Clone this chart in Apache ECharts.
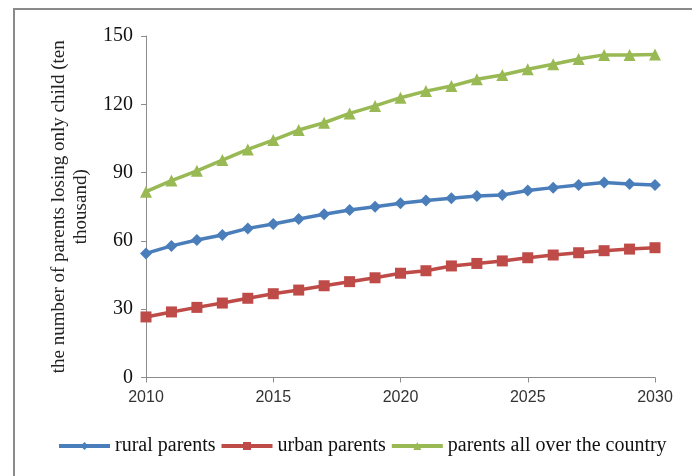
<!DOCTYPE html>
<html lang="en">
<head>
    <meta charset="UTF-8">
    <title>parents losing only child</title>
    <script src="https://cdn.jsdelivr.net/npm/echarts@6/dist/echarts.min.js"></script>
</head>
<body style="margin:0;background:#fff;">
<div id="main" style="width: 692px;height:476px;"></div>
<script>
    // years 2010..2030
    var years = [2010, 2011, 2012, 2013, 2014, 2015, 2016, 2017, 2018, 2019, 2020,
        2021, 2022, 2023, 2024, 2025, 2026, 2027, 2028, 2029, 2030];
    var rural = [54.5, 57.8, 60.4, 62.6, 65.5, 67.4, 69.6, 71.7, 73.6, 75.0, 76.5,
        77.7, 78.7, 79.7, 80.2, 82.1, 83.4, 84.6, 85.6, 85.0, 84.6];
    var urban = [26.6, 28.8, 30.8, 32.7, 34.8, 36.8, 38.4, 40.3, 42.1, 43.8, 45.8,
        46.9, 49.0, 50.1, 51.2, 52.6, 53.8, 54.8, 55.7, 56.4, 57.0];
    var country = [81.6, 86.5, 90.8, 95.5, 100.2, 104.3, 108.7, 111.9, 116.0, 119.3, 122.9,
        125.8, 128.0, 131.0, 132.9, 135.4, 137.6, 139.9, 141.7, 141.7, 141.9];
    var seriesNames = ['rural parents', 'urban parents', 'parents all over the country'];
    var yName = 'the number of parents losing only child (ten\nthousand)';

    function pairs(vals) {
        var res = [];
        for (var i = 0; i < years.length; i++) {
            res.push([years[i], vals[i]]);
        }
        return res;
    }

    var myChart = echarts.init(document.getElementById('main'));
    var serif = 'Liberation Serif';

    function lineSeries(name, vals, color, symbol, size) {
        return {
            name: name,
            type: 'line',
            data: pairs(vals),
            symbol: symbol,
            symbolSize: size,
            showAllSymbol: true,
            lineStyle: {color: color, width: 3.5},
            itemStyle: {color: color}
        };
    }

    var option = {
        animation: false,
        graphic: [{
            type: 'rect',
            shape: {x: 14, y: 9, width: 720, height: 520},
            style: {fill: 'none', stroke: '#8a8a8a', lineWidth: 2}
        }],
        grid: {left: 146, right: 37, top: 36, bottom: 98.5},
        legend: {
            left: 52,
            top: 431,
            itemWidth: 51,
            itemHeight: 10,
            itemGap: 4,
            lineStyle: {width: 4},
            textStyle: {fontFamily: serif, fontSize: 20, color: '#111'},
            data: seriesNames
        },
        xAxis: {
            type: 'value',
            min: 2010,
            max: 2030,
            interval: 5,
            splitLine: {show: false},
            axisLine: {lineStyle: {color: '#8c8c8c', width: 1}},
            axisTick: {show: true, length: 5, lineStyle: {color: '#8c8c8c'}},
            axisLabel: {
                fontFamily: 'Liberation Sans', fontSize: 16, color: '#333', margin: 12,
                formatter: function (v) { return String(v); }
            }
        },
        yAxis: {
            type: 'value',
            min: 0,
            max: 150,
            interval: 30,
            name: yName,
            nameLocation: 'middle',
            nameGap: 50,
            nameTextStyle: {fontFamily: serif, fontSize: 19, color: '#222', lineHeight: 22},
            splitLine: {show: false},
            axisLine: {show: true, lineStyle: {color: '#8c8c8c', width: 1}},
            axisTick: {show: true, length: 5, lineStyle: {color: '#8c8c8c'}},
            axisLabel: {fontFamily: serif, fontSize: 20, color: '#111', margin: 13}
        },
        series: [
            lineSeries(seriesNames[0], rural, '#4a7ebb', 'diamond', 12),
            lineSeries(seriesNames[1], urban, '#be4b48', 'rect', 11),
            lineSeries(seriesNames[2], country, '#98b954', 'triangle', 12)
        ]
    };

    myChart.setOption(option);
</script>
</body>
</html>
